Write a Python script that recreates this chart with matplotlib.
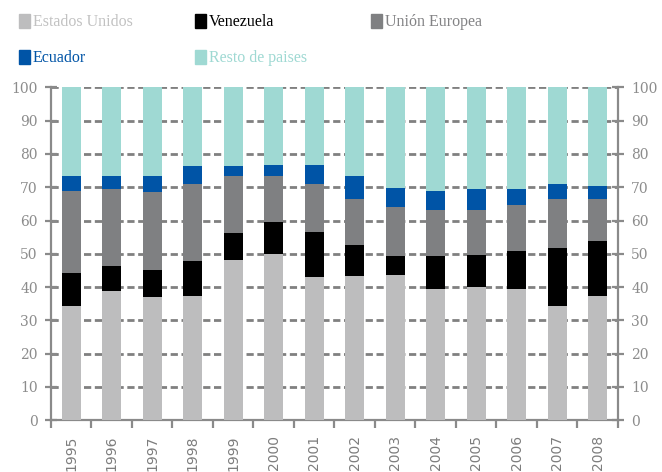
import numpy as np
import matplotlib
matplotlib.use("Agg")
import matplotlib.pyplot as plt
from matplotlib.patches import Rectangle

years = ['1995', '1996', '1997', '1998', '1999', '2000', '2001',
         '2002', '2003', '2004', '2005', '2006', '2007', '2008']

# shares (%) per destination
estados_unidos = [34.2, 38.7, 36.9, 37.2, 48.0, 49.8, 42.9, 43.2, 43.5, 39.3, 39.9, 39.3, 34.2, 37.2]
venezuela      = [9.9, 7.5, 8.1, 10.5, 8.2, 9.7, 13.6, 9.4, 5.7, 9.9, 9.6, 11.5, 17.5, 16.6]
union_europea  = [24.7, 23.2, 23.5, 23.2, 17.1, 13.8, 14.4, 13.8, 14.8, 13.9, 13.6, 13.8, 14.7, 12.6]
ecuador        = [4.5, 3.9, 4.8, 5.4, 3.0, 3.3, 5.7, 6.9, 5.7, 5.7, 6.3, 4.8, 4.5, 3.9]
resto          = [100 - a - b - c - d for a, b, c, d in
                  zip(estados_unidos, venezuela, union_europea, ecuador)]

series = [estados_unidos, venezuela, union_europea, ecuador, resto]
names = ['Estados Unidos', 'Venezuela', 'Unión Europea', 'Ecuador', 'Resto de paises']
colors = ['#bdbdbe', '#000000', '#7f8082', '#0054a6', '#9fd9d3']
text_colors = ['#c2c2c2', '#000000', '#838385', '#0054a6', '#9fd9d3']

grey = '#8a8a8a'
plt.rcParams['font.family'] = 'DejaVu Serif'

fig = plt.figure(figsize=(6.62, 4.72), dpi=100)
ax = fig.add_axes([0.0770, 0.110, 0.8565, 0.7047])

x = np.arange(len(years))
bottom = np.zeros(len(years))
for vals, col in zip(series, colors):
    ax.bar(x, vals, width=0.47, bottom=bottom, color=col, zorder=3, linewidth=0)
    bottom += np.array(vals)

ax.set_xlim(-0.5, len(years) - 0.5)
ax.set_ylim(0, 100)
ax.set_yticks(np.arange(0, 101, 10))
ax.yaxis.grid(True, color='#808080', linewidth=2.0, linestyle=(0, (2.6, 1.3)), zorder=0)
ax.set_axisbelow(True)

ax.set_xticks(np.arange(-0.5, len(years), 1.0))
ax.set_xticklabels([])
ax.set_xticks(x, minor=True)
ax.set_xticklabels(years, minor=True, rotation=90, va='top', ha='center',
                   fontsize=10, color='#7d7d7d', family='DejaVu Sans')
ax.tick_params(axis='x', which='major', direction='out', length=6, width=1.6, color=grey)
ax.tick_params(axis='x', which='minor', length=0, pad=11)

ax.tick_params(axis='y', which='major', direction='inout', length=9, width=1.6, color=grey,
               left=True, right=True, labelleft=True, labelright=True,
               labelsize=10, labelcolor='#8c8c8c', pad=5)

for side in ['left', 'bottom', 'right']:
    ax.spines[side].set_color(grey)
    ax.spines[side].set_linewidth(1.6)
ax.spines['top'].set_visible(False)

# legend drawn by hand, two rows
W, H = 662.0, 472.0
legend_pos = [(19, 21), (195, 21), (371, 21), (19, 57), (195, 57)]
for (px, py), name, col, tcol in zip(legend_pos, names, colors, text_colors):
    fig.patches.append(Rectangle((px / W, 1 - (py + 7) / H), 11 / W, 14 / H,
                                 transform=fig.transFigure, color=col, figure=fig))
    fig.text((px + 14) / W, 1 - (py + 1) / H, name, color=tcol, fontsize=11.5,
             family='Liberation Serif', va='center', ha='left')

fig.savefig('out.png', dpi=100)
